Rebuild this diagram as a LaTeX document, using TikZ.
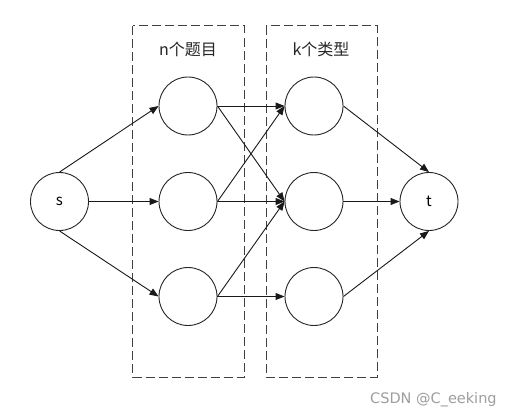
\documentclass[tikz,border=0pt]{standalone}
\usepackage{fontspec}
\setmainfont{Noto Sans CJK SC}
\newfontfamily\wmfont{DejaVu Sans}
\usetikzlibrary{arrows.meta}
\begin{document}
\begin{tikzpicture}[x=1pt,y=-1pt,
  vtx/.style={circle,draw=black!85,line width=0.9pt,minimum size=58pt,inner sep=0pt,font=\fontsize{15}{18}\selectfont},
  edge/.style={draw=black!90,line width=0.9pt,-{Triangle[length=9pt,width=7pt]}},
  groupbox/.style={draw=black!75,line width=1pt,dash pattern=on 9pt off 4pt},
  lbl/.style={font=\fontsize{16}{19}\selectfont,text=black!85,inner sep=0pt}]
\useasboundingbox (0,0) rectangle (522,420);
\fill[white] (0,0) rectangle (522,420);
% group boxes
\draw[groupbox] (132.5,26) rectangle (244,377);
\draw[groupbox] (266,26) rectangle (377,377);
\node[lbl] (ln) at (188,49) {n个题目};
\node[lbl] (lk) at (321,49) {k个类型};
% nodes
\node[vtx] (s) at (59.5,201.5) {s};
\node[vtx] (n1) at (188,106) {};
\node[vtx] (n2) at (188,201.5) {};
\node[vtx] (n3) at (188,296.5) {};
\node[vtx] (k1) at (314,106) {};
\node[vtx] (k2) at (314,201.5) {};
\node[vtx] (k3) at (314,296.5) {};
\node[vtx] (t) at (429,201.5) {t};
% edges
\draw[edge] (s.north) -- (n1.west);
\draw[edge] (s.east) -- (n2.west);
\draw[edge] (s.south) -- (n3.west);
\draw[edge] (n1.east) -- (k1.west);
\draw[edge] (n1.east) -- (k2.west);
\draw[edge] (n2.east) -- (k1.west);
\draw[edge] (n2.east) -- (k2.west);
\draw[edge] (n3.east) -- (k2.west);
\draw[edge] (n3.east) -- (k3.west);
\draw[edge] (k1.east) -- (t.north);
\draw[edge] (k2.east) -- (t.west);
\draw[edge] (k3.east) -- (t.south);
% watermark
\node[font=\wmfont\fontsize{14.5}{17}\selectfont,text=black!38,anchor=west,inner sep=0pt] (wm) at (370,400) {CSDN @C\_eeking};
\end{tikzpicture}
\end{document}
